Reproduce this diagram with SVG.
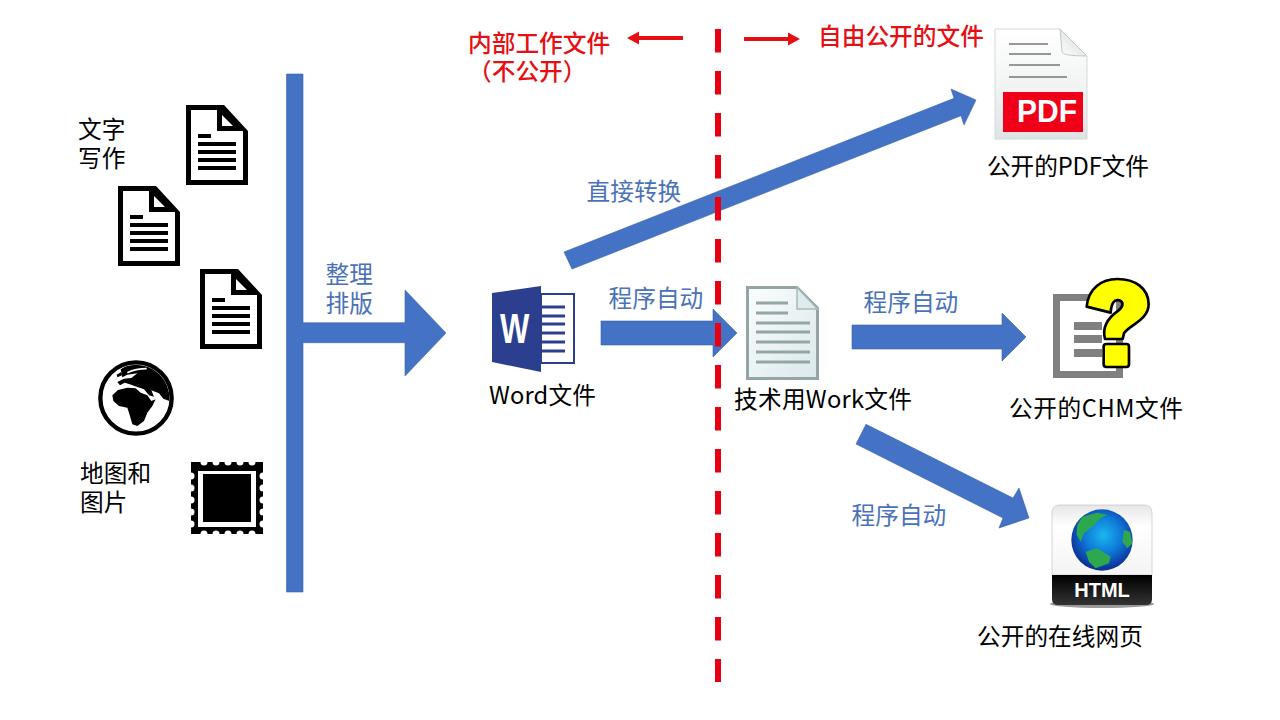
<svg xmlns="http://www.w3.org/2000/svg" width="1280" height="720" viewBox="0 0 1280 720">
<style>
text{font-family:"Noto Sans CJK SC","Liberation Sans",sans-serif;font-size:23.7px}
.lb{fill:#4a72b8}
.k{fill:#000}
.r{fill:#e50f14;font-weight:500}
.a{fill:#4472c4;stroke:#3a62a8;stroke-width:.6}
</style>
<defs>
<g id="doc">
<path d="M0 0H38L62 26V80H0Z" fill="#000"/>
<path d="M5 5H31V26H57V75H5Z" fill="#fff"/>
<path d="M36 10V21H47Z" fill="#fff"/>
<path d="M12 29H25V33H12ZM12 37H50V41H12ZM12 45H50V49H12ZM12 53H50V57H12ZM12 61H50V65H12Z" fill="#000"/>
</g>
<linearGradient id="sheet" x1="0" y1="0" x2="0" y2="1"><stop offset="0" stop-color="#fff"/><stop offset=".55" stop-color="#f1f3f3"/><stop offset="1" stop-color="#dfe3e3"/></linearGradient>
<linearGradient id="tech" x1="0" y1="0" x2="1" y2="1"><stop offset="0" stop-color="#fbfdfd"/><stop offset="1" stop-color="#dbe8ea"/></linearGradient>
<linearGradient id="fold" x1="0" y1="1" x2="1" y2="0"><stop offset="0" stop-color="#fff"/><stop offset="1" stop-color="#cfd2d2"/></linearGradient>
<linearGradient id="plate" x1="0" y1="0" x2="0" y2="1"><stop offset="0" stop-color="#e6e6e6"/><stop offset=".3" stop-color="#fff"/><stop offset="1" stop-color="#f4f4f4"/></linearGradient>
<linearGradient id="band" x1="0" y1="0" x2="0" y2="1"><stop offset="0" stop-color="#000"/><stop offset="1" stop-color="#333"/></linearGradient>
<radialGradient id="sea" cx=".52" cy=".42" r=".6"><stop offset="0" stop-color="#18b8ee"/><stop offset=".5" stop-color="#0f78d8"/><stop offset=".85" stop-color="#0c3fa6"/><stop offset="1" stop-color="#0a2a80"/></radialGradient>
<clipPath id="globeClip"><circle cx="126" cy="126" r="100"/></clipPath>
<clipPath id="htmlClip"><circle cx="114" cy="120" r="92"/></clipPath>
<filter id="soft" x="-10%" y="-10%" width="120%" height="120%"><feGaussianBlur stdDeviation="2"/></filter>
</defs>

<g id="connectors">
<path id="bar" class="a" d="M286.500 74H303V322.700H405V290L446 333L405 376V342.700H303V592H286.500Z"/>
<path id="arrow-pdf" class="a" d="M564 252L954 98.300L951 89L976 100L964 125L961 115.700L572 269Z"/>
<path id="arrow-word" class="a" d="M601 321H713V309L737 333L713 357V345H601Z"/>
<path id="arrow-chm" class="a" d="M852 325H1002V313L1026 337L1002 361V349H852Z"/>
<path id="arrow-html" class="a" d="M866 424.300L1013 498L1019 488L1029 518L999 528L1003 518L856 444Z"/>
<path id="divider" d="M718 29V682" fill="none" stroke="#e60012" stroke-width="6" stroke-dasharray="23.500 18.500"/>
<g id="red-arrows" fill="#e50f14" stroke="none">
<path d="M683 36V40H639V44.500L627 38L639 31.500V36Z"/>
<path d="M744 37H788V32.500L800 39L788 45.500V41H744Z"/>
</g>
</g>

<g id="note-left"><text class="r"><tspan x="468" y="52">内部工作文件</tspan><tspan x="468" y="80">（不公开）</tspan></text></g>
<g id="note-right"><text class="r" x="818" y="45">自由公开的文件</text></g>

<g id="label-text"><text class="k"><tspan x="78" y="138">文字</tspan><tspan x="78" y="167">写作</tspan></text></g>
<use id="doc-1" href="#doc" x="186" y="105"/>
<use id="doc-2" href="#doc" x="118" y="186"/>
<use id="doc-3" href="#doc" x="200" y="269"/>

<g id="globe" transform="translate(94 356) scale(.33333)">
<circle cx="126" cy="126" r="107" fill="#fff" stroke="#000" stroke-width="13"/>
<g clip-path="url(#globeClip)" fill="#000">
<path d="M55 118L72 102L100 95L125 97L140 110L160 118L172 135L185 130L175 150L160 170L150 195L130 210L115 205L105 170L100 155L75 150L58 135Z"/>
<path d="M80 40L110 22H150L205 50L235 110L226 135L208 128L195 112L172 103L180 122L165 118L150 100L128 92L105 84L92 80L78 88L70 78L90 68L112 66L130 52L100 56L85 64Z"/>
</g>
<path d="M100 50Q125 38 158 38" fill="none" stroke="#fff" stroke-width="5"/>
<path d="M68 56L82 48L84 58L70 64Z" fill="#000"/>
</g>

<g id="label-map"><text class="k"><tspan x="80" y="482">地图和</tspan><tspan x="80" y="511">图片</tspan></text></g>
<g id="stamp">
<rect x="191" y="462" width="72" height="72" fill="#000"/>
<g fill="#fff">
<circle cx="204" cy="462" r="3.500"/><circle cx="216" cy="462" r="3.500"/><circle cx="228" cy="462" r="3.500"/><circle cx="240" cy="462" r="3.500"/><circle cx="252" cy="462" r="3.500"/>
<circle cx="204" cy="534" r="3.500"/><circle cx="216" cy="534" r="3.500"/><circle cx="228" cy="534" r="3.500"/><circle cx="240" cy="534" r="3.500"/><circle cx="252" cy="534" r="3.500"/>
<circle cx="191" cy="476" r="3.500"/><circle cx="191" cy="488" r="3.500"/><circle cx="191" cy="500" r="3.500"/><circle cx="191" cy="512" r="3.500"/><circle cx="191" cy="524" r="3.500"/>
<circle cx="263" cy="476" r="3.500"/><circle cx="263" cy="488" r="3.500"/><circle cx="263" cy="500" r="3.500"/><circle cx="263" cy="512" r="3.500"/><circle cx="263" cy="524" r="3.500"/>
<rect x="198" y="471" width="58" height="56"/>
</g>
<rect x="203" y="474" width="48" height="48" fill="#000"/>
</g>

<g id="label-layout"><text class="lb"><tspan x="325.500" y="283">整理</tspan><tspan x="325.500" y="312">排版</tspan></text></g>

<g id="word">
<rect x="541" y="294" width="33" height="69" fill="#fff" stroke="#2b3f8e" stroke-width="2"/>
<path d="M541 307H565M541 316H565M541 324H565M541 333H565M541 342H565M541 351H565" stroke="#2b3f8e" stroke-width="3" fill="none"/>
<path d="M492 293L541 286V372L492 362Z" fill="#2b3f8e"/>
<text transform="translate(500 343) scale(.74 1)" style="font-family:'Liberation Sans',sans-serif;font-weight:700;font-size:42px" fill="#fff">W</text>
<text x="489" y="404" class="k" textLength="107">Word文件</text>
</g>

<text class="lb" x="608.500" y="307">程序自动</text>
<text class="lb" x="586.500" y="200">直接转换</text>
<text class="lb" x="863.500" y="311">程序自动</text>
<text class="lb" x="851.500" y="524">程序自动</text>

<g id="tech-doc">
<path d="M747.500 287.500H797L817.500 308V378.500H747.500Z" fill="url(#tech)" stroke="#93a5a5" stroke-width="3"/>
<path d="M797 287.500V309H817.500Z" fill="#dfeaec" stroke="#a9b9b9" stroke-width="1.500"/>
<path d="M756 303H788M756 313H788M756 323H810M756 332H810M756 342H810M756 352H810M756 362H810" stroke="#93a5a5" stroke-width="3" fill="none"/>
<text x="734" y="408" class="k" textLength="178">技术用Work文件</text>
</g>

<g id="pdf">
<path d="M995 29H1060L1087 56V139H995Z" fill="url(#sheet)" stroke="#d6d8d8" stroke-width="1"/>
<path d="M1060 29L1062 52Q1063 56 1087 56Z" fill="url(#fold)" stroke="#c4c6c6" stroke-width="1"/>
<path d="M1009 44H1048M1009 54H1051M1009 65H1060M1009 77H1067" stroke="#777" stroke-width="1.500" fill="none"/>
<rect x="1003" y="92" width="80" height="40" fill="#f00018"/>
<text x="1017" y="122" textLength="60" lengthAdjust="spacingAndGlyphs" style="font-family:'Liberation Sans',sans-serif;font-weight:700;font-size:32px" fill="#fff">PDF</text>
<text x="987" y="175" class="k" textLength="162">公开的PDF文件</text>
</g>

<g id="chm">
<rect x="1056.500" y="297.500" width="63" height="77" fill="#fff" stroke="#808080" stroke-width="7"/>
<path d="M1074 322H1102V330H1074ZM1074 335H1102V343H1074ZM1074 349H1102V357H1074Z" fill="#808080"/>
<g transform="translate(1040 270) scale(.3333)">
<path d="M140 110C145 55 185 27 232 27C285 27 326 55 326 103C326 150 268 165 252 190L248 207H195C185 170 205 143 235 122C250 110 252 96 238 91C222 87 214 100 212 128Z" fill="#ffff00" stroke="#000" stroke-width="8" stroke-linejoin="round"/>
<rect x="191" y="222" width="76" height="69" rx="8" fill="#ffff00" stroke="#000" stroke-width="8"/>
</g>
<text x="1009" y="417" class="k" textLength="174">公开的CHM文件</text>
</g>

<g id="html">
<ellipse cx="1102" cy="604" rx="52" ry="4" fill="#999"/>
<path d="M1052 575V513Q1052 505 1060 505H1144Q1152 505 1152 513V575Z" fill="url(#plate)" stroke="#ccc" stroke-width=".8"/>
<path d="M1052 575H1152V599Q1152 605 1146 605H1058Q1052 605 1052 599Z" fill="url(#band)"/>
<g transform="translate(1064 500) scale(.33333)">
<circle cx="114" cy="120" r="92" fill="url(#sea)"/>
<g clip-path="url(#htmlClip)" fill="#2fa84f">
<path d="M55 50L100 38L130 45L110 55L85 80L60 100L50 125L38 105L40 75Z" filter="url(#soft)"/>
<path d="M65 155L100 145L140 170L135 190L95 205L75 185Z" filter="url(#soft)"/>
<path d="M180 90L198 95L205 130L190 145L175 125Z" filter="url(#soft)"/>
</g>
</g>
<text x="1102" y="597" text-anchor="middle" style="font-family:'Liberation Sans',sans-serif;font-weight:700;font-size:20px" fill="#fff">HTML</text>
<text x="977" y="645" class="k">公开的在线网页</text>
</g>
</svg>
